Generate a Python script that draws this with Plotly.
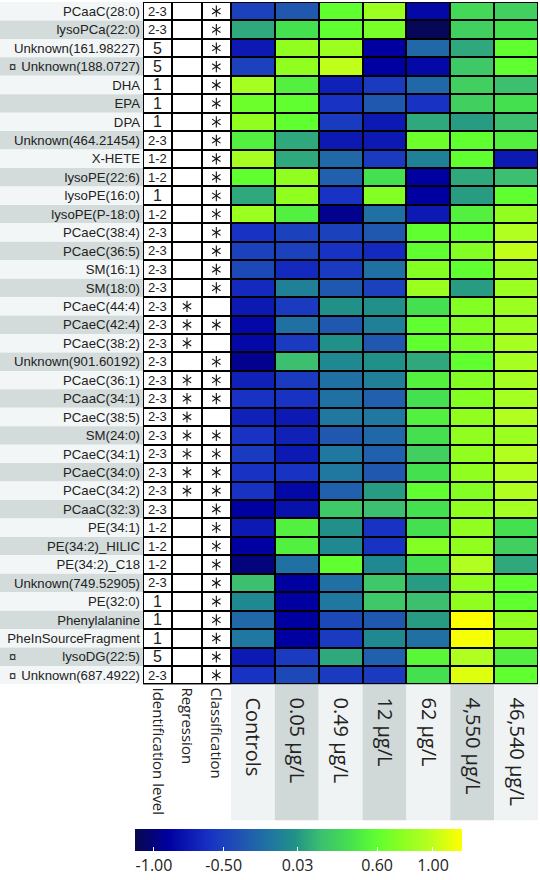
import plotly.graph_objects as go

W, H = 540, 880

names = ["PCaaC(28:0)", "lysoPCa(22:0)", "Unknown(161.98227)", "Unknown(188.0727)", "DHA", "EPA", "DPA",
         "Unknown(464.21454)", "X-HETE", "lysoPE(22:6)", "lysoPE(16:0)", "lysoPE(P-18:0)", "PCaeC(38:4)",
         "PCaeC(36:5)", "SM(16:1)", "SM(18:0)", "PCaeC(44:4)", "PCaeC(42:4)", "PCaeC(38:2)",
         "Unknown(901.60192)", "PCaeC(36:1)", "PCaaC(34:1)", "PCaeC(38:5)", "SM(24:0)", "PCaeC(34:1)",
         "PCaeC(34:0)", "PCaeC(34:2)", "PCaaC(32:3)", "PE(34:1)", "PE(34:2)_HILIC", "PE(34:2)_C18",
         "Unknown(749.52905)", "PE(32:0)", "Phenylalanine", "PheInSourceFragment", "lysoDG(22:5)",
         "Unknown(687.4922)"]
marked = [0, 0, 0, 1, 0, 0, 0, 0, 0, 0, 0, 0, 0, 0, 0, 0, 0, 0, 0, 0, 0, 0, 0, 0, 0, 0, 0, 0, 0, 0, 0,
          0, 0, 0, 0, 1, 1]
id_level = ["2-3", "2-3", "5", "5", "1", "1", "1", "2-3", "1-2", "1-2", "1", "1-2", "2-3", "2-3", "2-3",
            "2-3", "2-3", "2-3", "2-3", "2-3", "2-3", "2-3", "2-3", "2-3", "2-3", "2-3", "2-3", "2-3",
            "1-2", "1-2", "1-2", "2-3", "1", "1", "1", "5", "2-3"]
regression = [0, 0, 0, 0, 0, 0, 0, 0, 0, 0, 0, 0, 0, 0, 0, 0, 1, 1, 1, 0, 1, 1, 1, 1, 1, 1, 1, 0, 0, 0,
              0, 0, 0, 0, 0, 0, 0]
classification = [1, 1, 1, 1, 1, 1, 1, 1, 1, 1, 1, 1, 1, 1, 1, 1, 0, 1, 0, 1, 1, 1, 0, 1, 1, 1, 1, 1,
                  1, 1, 1, 1, 1, 1, 1, 1, 1]
table_headers = ["Identification level", "Regression", "Classification"]
concentrations = ["Controls", "0.05 µg/L", "0.49 µg/L", "12 µg/L", "62 µg/L", "4,550 µg/L", "46,540 µg/L"]
values = [
    [-0.5, -0.35, 0.6, 0.85, -0.85, 0.35, 0.3],
    [0.1, 0.4, 0.6, 0.7, -1.1, 0.3, 0.4],
    [-0.75, 0.8, 0.85, -0.9, -0.25, 0.1, 0.6],
    [-0.5, 0.8, 1.0, -0.9, -0.85, 0.25, 0.6],
    [0.9, 0.5, -0.7, -0.55, -0.25, 0.3, 0.2],
    [0.65, 0.6, -0.6, -0.35, -0.6, 0.3, 0.4],
    [0.8, 0.6, -0.55, -0.75, 0.1, 0.05, 0.2],
    [0.5, 0.1, -0.75, -0.75, 0.65, 0.6, 0.5],
    [0.9, 0.1, -0.25, -0.55, -0.1, 0.6, -0.75],
    [0.6, 0.8, -0.3, 0.4, -0.9, 0.1, 0.2],
    [0.1, 0.8, -0.6, 0.75, -0.9, 0.05, 0.6],
    [0.85, 0.5, -0.95, -0.2, -0.75, 0.5, 0.8],
    [-0.6, -0.5, -0.5, -0.35, 0.6, 0.6, 0.95],
    [-0.5, -0.5, -0.6, -0.65, 0.6, 0.75, 1.0],
    [-0.45, -0.65, -0.55, -0.2, 0.75, 0.6, 0.85],
    [-0.65, -0.1, -0.35, -0.5, 0.85, 0.05, 0.85],
    [-0.75, -0.55, 0.0, 0.0, 0.4, 0.75, 0.85],
    [-0.85, -0.2, -0.35, -0.1, 0.6, 0.75, 0.85],
    [-0.85, -0.55, 0.0, -0.35, 0.6, 0.7, 0.9],
    [-0.95, 0.2, -0.05, 0.0, 0.1, 0.6, 0.9],
    [-0.7, -0.55, -0.2, -0.1, 0.5, 0.75, 0.9],
    [-0.6, -0.6, -0.2, -0.3, 0.4, 0.75, 0.9],
    [-0.7, -0.75, -0.15, -0.15, 0.5, 0.8, 0.95],
    [-0.6, -0.7, -0.35, -0.25, 0.4, 0.8, 0.85],
    [-0.55, -0.75, -0.15, -0.3, 0.3, 0.8, 0.95],
    [-0.6, -0.6, -0.15, -0.35, 0.4, 0.8, 0.95],
    [-0.6, -0.85, -0.3, 0.05, 0.6, 0.75, 0.95],
    [-0.9, -0.8, 0.25, 0.2, 0.4, 0.8, 0.9],
    [-0.75, 0.5, 0.0, -0.6, 0.4, 0.8, 0.4],
    [-0.9, 0.5, -0.05, -0.6, 0.75, 0.8, 0.3],
    [-1.0, -0.2, 0.6, -0.05, 0.4, 0.95, 0.1],
    [0.2, -0.9, -0.2, 0.25, 0.05, 0.8, 0.6],
    [-0.05, -0.9, -0.15, 0.25, 0.2, 0.8, 0.6],
    [-0.25, -0.9, -0.45, -0.35, 0.05, 1.2, 0.8],
    [-0.15, -0.9, -0.55, -0.05, -0.2, 1.18, 0.8],
    [-0.75, -0.55, 0.1, -0.3, 0.55, 0.95, 0.5],
    [-0.6, -0.45, -0.55, -0.55, 0.4, 1.1, 0.6],
]
cbar_ticks = [-1.0, -0.5, 0.03, 0.6, 1.0]
cbar_ticktext = ["-1.00", "-0.50", "0.03", "0.60", "1.00"]

ZMIN, ZMAX = -1.136, 1.208
anchors = [(-1.136, "#08084c"), (-0.9, "#0000a0"), (-0.6, "#1832c4"), (-0.35, "#2058b0"),
           (-0.15, "#2078a0"), (0.0, "#209088"), (0.2, "#3cc070"), (0.4, "#45e050"),
           (0.6, "#60ff30"), (0.8, "#90ff20"), (0.95, "#b0ff20"), (1.208, "#ffff00")]
colorscale = [[(v - ZMIN) / (ZMAX - ZMIN), c] for v, c in anchors]
colorscale[0][0] = 0.0
colorscale[-1][0] = 1.0


def py(px):
    return 1 - px / H


def pxx(px):
    return px / W


TOP, BOT = 2, 686
TL, TR, HR = 143, 231, 538
BAND_BOT = 822

fig = go.Figure()

n = len(names)
fig.add_trace(go.Heatmap(
    z=[[0, 0, 0] for _ in names], x=table_headers, y=names,
    colorscale=[[0, "white"], [1, "white"]], showscale=False,
    xgap=2, ygap=2, hoverinfo="skip", xaxis="x", yaxis="y"))

fig.add_trace(go.Heatmap(
    z=values, x=concentrations, y=names, colorscale=colorscale, zmin=ZMIN, zmax=ZMAX,
    xgap=2, ygap=2, xaxis="x2", yaxis="y",
    colorbar=dict(orientation="h", x=pxx((135 + 462) / 2), xanchor="center", lenmode="fraction",
                  len=(462 - 135) / W, y=py(831), yanchor="top", thickness=22, outlinewidth=0,
                  xpad=0, ypad=0, tickvals=cbar_ticks, ticktext=cbar_ticktext,
                  ticks="inside", tickcolor="white", ticklen=4,
                  tickfont=dict(family="Open Sans", size=16, color="#222"))))

# asterisks in the regression / classification columns, drawn as markers
star_x, star_y = [], []
for i in range(n):
    if regression[i]:
        star_x.append(table_headers[1]); star_y.append(names[i])
    if classification[i]:
        star_x.append(table_headers[2]); star_y.append(names[i])
for sym in ["y-up-open", "y-down-open"]:
    fig.add_trace(go.Scatter(x=star_x, y=star_y, mode="markers", xaxis="x", yaxis="y",
                             marker=dict(symbol=sym, size=7, color="#111", line=dict(color="#111", width=1.1)),
                             hoverinfo="skip", showlegend=False))

shapes = []
for i in range(n):
    shapes.append(dict(type="rect", xref="paper", yref="y", x0=0, x1=pxx(TL), y0=i - 0.5, y1=i + 0.5,
                       fillcolor="#f3f6f6" if i % 2 == 0 else "#d3dbdb", line_width=0, layer="below"))
for j in range(len(concentrations)):
    shapes.append(dict(type="rect", xref="x2", yref="paper", x0=j - 0.5, x1=j + 0.5,
                       y0=py(BAND_BOT), y1=py(BOT),
                       fillcolor="#f0f3f3" if j % 2 == 0 else "#d0d8d8", line_width=0, layer="below"))

annotations = []
for i in range(n):
    if marked[i]:
        annotations.append(dict(text="¤", xref="paper", yref="y", x=pxx(7), y=i, xanchor="left",
                                showarrow=False, font=dict(family="Liberation Sans", size=13, color="#222")))
    lvl = id_level[i]
    annotations.append(dict(text=lvl, xref="x", yref="y", x=0, y=i, showarrow=False,
                            font=dict(family="Liberation Sans", size=13 if "-" in lvl else 16, color="#222")))

fig.update_layout(
    width=W, height=H, margin=dict(l=0, r=0, t=0, b=0),
    paper_bgcolor="white", plot_bgcolor="black",
    shapes=shapes, annotations=annotations, showlegend=False,
    xaxis=dict(domain=[pxx(TL), pxx(TR)], anchor="y", range=[-0.5, 2.5], showgrid=False, zeroline=False,
               tickangle=90, ticks="", ticklabelstandoff=2,
               tickfont=dict(family="Open Sans", size=15, color="#222")),
    xaxis2=dict(domain=[pxx(TR), pxx(HR)], anchor="y", range=[-0.5, 6.5], showgrid=False, zeroline=False,
                tickangle=90, ticks="", ticklabelstandoff=12,
                tickfont=dict(family="Open Sans", size=20, color="#222")),
    yaxis=dict(domain=[py(BOT), py(TOP)], anchor="x", range=[n - 0.5, -0.5], showgrid=False,
               zeroline=False, ticks="", ticklabelstandoff=2,
               tickfont=dict(family="Liberation Sans", size=13.2, color="#222")),
)

fig.write_html("out.html", config={"displayModeBar": False},
               post_script="document.body.style.margin='0px';")
